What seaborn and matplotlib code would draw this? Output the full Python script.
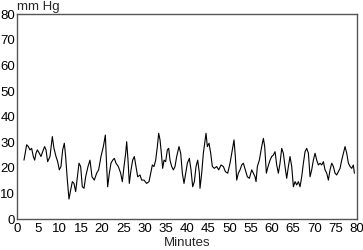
import matplotlib
matplotlib.use("Agg")
import matplotlib.pyplot as plt
import seaborn as sns
import pandas as pd

minutes = [1.57, 2.20, 2.59, 2.99, 3.38, 3.77, 4.09, 4.40, 4.72, 5.19, 5.58, 5.97, 6.44, 6.76,
           7.15, 7.70, 8.25, 8.64, 9.12, 9.51, 9.90, 10.29, 10.69, 11.08, 11.39, 11.79, 12.18,
           12.57, 12.97, 13.36, 13.75, 14.15, 14.54, 14.93, 15.32, 15.72, 16.11, 16.66, 17.13,
           17.60, 18.15, 18.70, 19.17, 19.72, 20.28, 20.75, 21.06, 21.30, 21.69, 22.08, 22.48,
           22.87, 23.26, 23.81, 24.36, 24.75, 25.15, 25.54, 25.78, 26.09, 26.40, 26.80, 27.19,
           27.58, 27.98, 28.37, 28.92, 29.31, 29.86, 30.49, 31.04, 31.43, 31.83, 32.22, 32.61,
           33.01, 33.32, 33.64, 33.95, 34.26, 34.58, 34.97, 35.36, 35.68, 35.99, 36.39, 36.78,
           37.17, 37.56, 38.11, 38.51, 38.90, 39.29, 39.69, 40.08, 40.55, 40.94, 41.34, 41.73,
           42.12, 42.52, 42.91, 43.06, 43.46, 43.85, 44.16, 44.48, 44.79, 45.19, 45.58, 45.97,
           46.44, 47.00, 47.47, 48.02, 48.57, 49.04, 49.59, 50.14, 50.69, 51.08, 51.39, 51.71,
           52.10, 52.50, 52.89, 53.28, 53.75, 54.22, 54.70, 55.25, 55.64, 56.03, 56.27, 56.58,
           57.05, 57.60, 58.00, 58.31, 58.70, 59.10, 59.57, 59.96, 60.35, 60.75, 61.14, 61.53,
           61.92, 62.32, 62.71, 63.10, 63.50, 63.89, 64.28, 64.68, 65.07, 65.46, 65.85, 66.25,
           66.64, 67.03, 67.43, 67.82, 68.21, 68.61, 69.00, 69.39, 69.78, 70.18, 70.57, 70.96,
           71.36, 71.75, 72.14, 72.53, 72.93, 73.32, 73.71, 74.11, 74.50, 74.89, 75.28, 75.68,
           76.07, 76.46, 76.86, 77.25, 77.64, 78.04, 78.43, 78.82, 79.21, 79.45]

pressure = [23.0, 29.0, 28.3, 27.0, 27.6, 24.4, 23.0, 25.7, 27.0, 25.7, 24.4, 26.3, 28.3, 27.0,
            22.4, 24.4, 32.2, 27.6, 24.4, 22.4, 19.2, 20.5, 27.0, 29.6, 24.4, 15.2, 7.8,
            11.3, 14.6, 13.9, 10.7, 16.5, 21.8, 20.5, 12.6, 12.0, 16.5, 20.5, 23.0,
            16.5, 15.2, 17.9, 19.2, 24.4, 28.3, 32.8, 20.5, 12.6, 17.9, 21.8, 23.0,
            23.7, 21.8, 20.5, 17.9, 14.6, 20.5, 25.7, 30.2, 23.0, 13.9, 19.2, 23.0,
            24.4, 20.5, 16.5, 17.2, 15.2, 15.2, 13.9, 14.6, 17.9, 21.1, 20.5, 23.0,
            28.3, 33.5, 30.9, 25.7, 19.8, 23.0, 22.4, 27.0, 27.6, 23.0, 20.5, 19.2,
            20.5, 24.4, 28.3, 25.7, 17.9, 13.9, 17.9, 21.8, 23.7, 19.2, 12.6, 14.6,
            20.5, 23.0, 17.9, 12.0, 17.9, 25.7, 29.6, 33.5, 28.3, 29.6, 25.7, 20.5,
            19.8, 20.5, 19.2, 21.1, 20.5, 18.5, 17.9, 21.8, 27.0, 30.9, 24.4, 15.2,
            17.9, 19.2, 21.1, 21.8, 19.2, 16.5, 15.9, 19.2, 17.9, 16.5, 14.6, 20.5,
            23.0, 28.3, 31.5, 28.3, 17.9, 20.5, 23.0, 24.4, 25.0, 26.3, 21.1, 17.9,
            21.8, 27.6, 25.7, 20.5, 15.9, 20.5, 24.4, 20.5, 12.6, 14.6, 13.3, 14.6,
            12.6, 16.5, 21.8, 26.3, 27.6, 25.7, 16.5, 19.2, 23.0, 25.7, 23.0, 21.1,
            21.8, 21.1, 22.4, 19.2, 17.9, 15.2, 19.2, 21.8, 20.5, 17.9, 17.2, 18.5,
            19.8, 23.0, 25.7, 28.3, 25.7, 21.8, 20.5, 19.8, 21.1, 17.9]

x_ticks = list(range(0, 81, 5))
y_ticks = list(range(0, 81, 10))

df = pd.DataFrame({"Minutes": minutes, "mmHg": pressure})

sns.set_style("white")
plt.rcParams["font.family"] = ["Liberation Sans", "DejaVu Sans"]

fig = plt.figure(figsize=(3.63, 2.5), dpi=100)
ax = fig.add_axes([0.0477, 0.124, 0.935, 0.819])

sns.lineplot(data=df, x="Minutes", y="mmHg", ax=ax, color="black", linewidth=0.8)

ax.set_xlim(0, 80)
ax.set_ylim(0, 80)
ax.set_xticks(x_ticks)
ax.set_yticks(y_ticks)
ax.tick_params(axis="both", direction="in", length=3, width=0.8, colors="#333333",
               labelsize=9.5, labelcolor="black")
ax.tick_params(axis="x", pad=3)
ax.tick_params(axis="y", pad=1.5)
for s in ax.spines.values():
    s.set_color("#555555")
    s.set_linewidth(1.0)
    s.set_visible(True)

ax.set_xlabel("Minutes", fontsize=9.5, labelpad=1)
ax.set_ylabel("")
ax.text(0.0, 1.005, "mm Hg", transform=ax.transAxes, ha="left", va="bottom", fontsize=9.5)

fig.savefig("out.png", dpi=100)
